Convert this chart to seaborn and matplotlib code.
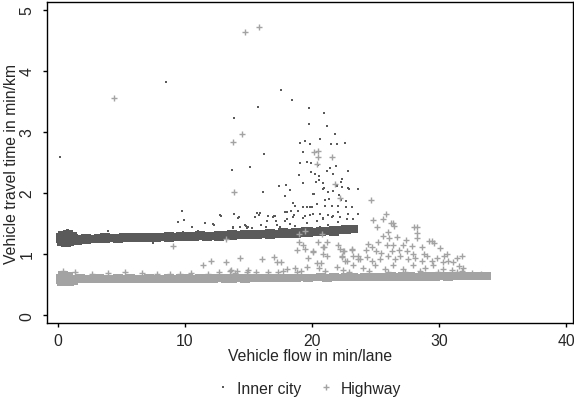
import matplotlib
matplotlib.use("Agg")
import matplotlib.pyplot as plt
from matplotlib.lines import Line2D
from matplotlib.path import Path
import seaborn as sns
import pandas as pd

# ---------------- data ----------------
series_names = ["Inner city", "Highway"]
x_ticks = [0, 10, 20, 30, 40]
y_ticks = [0, 1, 2, 3, 4, 5]

# dense core band, inner city: x positions with upper / lower edge values
city_band_x = [0.2, 0.7, 1.2, 1.7, 2.2, 2.7, 3.2, 3.7, 4.2, 4.7, 5.2, 5.7, 6.2, 6.7, 7.2, 7.7,
               8.2, 8.7, 9.2, 9.7, 10.2, 10.7, 11.2, 11.7, 12.2, 12.7, 13.2, 13.7, 14.2, 14.7,
               15.2, 15.7, 16.2, 16.7, 17.2, 17.7, 18.2, 18.7, 19.2, 19.7, 20.2, 20.7, 21.2,
               21.7, 22.2, 22.7, 23.2]
city_band_hi = [1.29, 1.27, 1.28, 1.27, 1.28, 1.27, 1.28, 1.29, 1.28, 1.28,
                1.29, 1.29, 1.30, 1.29, 1.29, 1.30, 1.30, 1.31, 1.30, 1.32,
                1.31, 1.31, 1.33, 1.32, 1.32, 1.33, 1.33, 1.34, 1.33, 1.35,
                1.34, 1.35, 1.35, 1.36, 1.35, 1.37, 1.36, 1.38, 1.37, 1.39,
                1.38, 1.40, 1.40, 1.41, 1.41, 1.43, 1.43]
city_band_lo = [1.23, 1.23, 1.22, 1.23, 1.22, 1.23, 1.23, 1.23, 1.24, 1.23,
                1.24, 1.24, 1.25, 1.24, 1.25, 1.24, 1.26, 1.25, 1.26, 1.26,
                1.27, 1.26, 1.28, 1.27, 1.28, 1.27, 1.29, 1.28, 1.29, 1.29,
                1.30, 1.29, 1.31, 1.30, 1.31, 1.31, 1.32, 1.32, 1.33, 1.33,
                1.34, 1.34, 1.36, 1.35, 1.37, 1.37, 1.39]
city_edge_x = [0.3, 0.6, 0.9, 1.2, 1.5, 0.4, 0.8, 1.1]
city_edge_y = [1.18, 1.17, 1.18, 1.19, 1.20, 1.33, 1.34, 1.32]

# dense core band, highway
hw_band_x = [0.2, 0.7, 1.2, 1.7, 2.2, 2.7, 3.2, 3.7, 4.2, 4.7, 5.2, 5.7, 6.2, 6.7, 7.2, 7.7,
             8.2, 8.7, 9.2, 9.7, 10.2, 10.7, 11.2, 11.7, 12.2, 12.7, 13.2, 13.7, 14.2, 14.7,
             15.2, 15.7, 16.2, 16.7, 17.2, 17.7, 18.2, 18.7, 19.2, 19.7, 20.2, 20.7, 21.2,
             21.7, 22.2, 22.7, 23.2, 23.7, 24.2, 24.7, 25.2, 25.7, 26.2, 26.7, 27.2, 27.7,
             28.2, 28.7, 29.2, 29.7, 30.2, 30.7, 31.2, 31.7, 32.2, 32.7, 33.2, 33.7]
hw_band_hi = [0.62, 0.62, 0.61, 0.62, 0.61, 0.61, 0.62, 0.61, 0.61, 0.62,
              0.61, 0.62, 0.61, 0.61, 0.62, 0.61, 0.61, 0.62, 0.61, 0.62,
              0.62, 0.61, 0.62, 0.62, 0.62, 0.62, 0.63, 0.62, 0.62, 0.63,
              0.62, 0.63, 0.62, 0.63, 0.63, 0.62, 0.63, 0.63, 0.63, 0.63,
              0.63, 0.64, 0.63, 0.64, 0.63, 0.64, 0.64, 0.63, 0.64, 0.64,
              0.64, 0.64, 0.65, 0.64, 0.65, 0.65, 0.64, 0.65, 0.65, 0.65,
              0.65, 0.66, 0.65, 0.66, 0.66, 0.65, 0.66, 0.66]
hw_band_lo = [0.56, 0.56, 0.57, 0.57, 0.57, 0.57, 0.57, 0.57, 0.58, 0.57,
              0.57, 0.57, 0.58, 0.57, 0.57, 0.58, 0.58, 0.57, 0.58, 0.58,
              0.58, 0.58, 0.58, 0.58, 0.58, 0.59, 0.58, 0.58, 0.59, 0.58,
              0.59, 0.59, 0.59, 0.59, 0.59, 0.59, 0.59, 0.59, 0.60, 0.59,
              0.60, 0.60, 0.59, 0.60, 0.60, 0.60, 0.60, 0.60, 0.60, 0.60,
              0.61, 0.60, 0.60, 0.61, 0.61, 0.61, 0.61, 0.61, 0.61, 0.61,
              0.62, 0.61, 0.62, 0.62, 0.62, 0.62, 0.62, 0.62]
hw_edge_x = [0.3, 0.6, 0.9, 1.2, 0.4, 0.8]
hw_edge_y = [0.52, 0.53, 0.53, 0.54, 0.67, 0.66]

# scattered inner-city observations
city_x = [0.16, 8.50, 17.56, 18.43, 15.75, 19.76, 20.94, 13.86, 19.76, 21.18, 21.81, 19.06,
          19.45, 19.84, 20.63, 21.50, 21.97, 22.60, 16.22, 19.29, 19.06, 19.61, 19.92, 20.47,
          21.42, 21.89, 13.70, 15.12, 18.98, 19.92, 20.24, 20.55, 21.18, 21.65, 22.36, 22.83,
          19.29, 20.55, 22.28, 16.14, 17.40, 17.95, 18.27, 20.94, 22.36, 22.91, 23.62,
          20.31, 20.87, 21.97, 22.83, 20.87, 21.26, 21.65, 22.13, 20.08, 20.16, 17.87, 22.28,
          21.02, 21.34, 22.68, 18.50, 18.66, 19.29, 19.61, 19.84, 20.00, 20.39, 21.02, 21.57,
          22.05, 22.68, 23.15, 18.35, 17.87, 15.67, 15.83, 15.51, 16.54, 16.93, 17.17, 18.03,
          18.58, 19.45, 19.84, 20.63, 20.87, 21.26, 21.57, 22.05, 22.20, 22.83, 23.23, 23.62,
          12.83, 11.57, 12.28, 13.86, 14.17, 16.46, 17.01, 15.98, 14.80, 14.33, 13.78,
          0.79, 3.94, 9.76, 9.45, 9.92, 10.55, 12.76, 9.84, 11.02, 13.78,
          12.20, 14.25, 14.72, 14.96, 15.91, 17.09, 17.24, 18.03, 17.87, 18.27, 18.50, 18.90,
          19.29, 19.61, 20.08, 20.39, 20.87, 21.26, 21.65, 22.05, 22.76, 14.88, 15.28, 16.38,
          17.48, 18.66, 19.21, 20.63, 21.57, 22.44, 0.71, 0.16, 0.02, 7.50]
city_y = [2.59, 3.82, 3.69, 3.52, 3.41, 3.39, 3.31, 3.23, 3.13, 3.10, 2.97, 2.82,
          2.85, 2.80, 2.89, 2.80, 2.80, 2.82, 2.64, 2.67, 2.49, 2.51, 2.49, 2.46,
          2.41, 2.44, 2.38, 2.43, 2.30, 2.34, 2.31, 2.28, 2.36, 2.31, 2.23, 2.36,
          2.16, 2.21, 2.18, 2.02, 2.11, 2.13, 2.05, 2.08, 2.10, 2.07, 2.07,
          2.18, 2.16, 2.11, 2.08, 2.07, 2.02, 2.03, 1.97, 1.98, 1.98, 1.95, 1.89,
          1.89, 1.90, 1.87, 1.84, 1.79, 1.77, 1.77, 1.77, 1.77, 1.82, 1.79, 1.79,
          1.79, 1.77, 1.77, 1.70, 1.69, 1.67, 1.64, 1.61, 1.62, 1.61, 1.54, 1.57,
          1.64, 1.62, 1.64, 1.66, 1.57, 1.64, 1.61, 1.69, 1.61, 1.66, 1.57, 1.66,
          1.62, 1.51, 1.48, 1.66, 1.59, 1.54, 1.62, 1.48, 1.46, 1.44, 1.44,
          1.39, 1.38, 1.70, 1.52, 1.56, 1.44, 1.64, 1.36, 1.38, 1.43,
          1.49, 1.61, 1.48, 1.44, 1.67, 1.62, 1.48, 1.69, 1.54, 1.49, 1.61, 1.70,
          1.59, 1.51, 1.66, 1.54, 1.59, 1.48, 1.62, 1.52, 1.57, 1.43, 1.43, 1.44,
          1.44, 1.46, 1.43, 1.44, 1.44, 1.46, 1.39, 1.36, 1.33, 1.18]

# scattered highway observations
hw_x = [4.41, 14.72, 15.83, 14.49, 13.78, 20.16, 20.47, 21.57, 20.47, 20.39, 21.81, 13.86,
        22.20, 13.23, 9.06,
        11.42, 12.05, 13.23, 14.33, 13.62, 14.09, 14.88, 16.06, 17.01, 17.24, 17.56, 18.98,
        18.82, 19.29, 18.98, 19.45, 20.79, 20.47, 21.18, 20.94, 20.08, 19.69, 20.39, 20.71,
        21.18, 19.61, 22.05, 22.44, 22.36, 22.76, 23.15, 23.23, 23.62, 13.54, 13.94, 14.96,
        17.72, 18.03, 18.66, 18.82,
        24.65, 25.83, 24.80, 25.59, 25.12, 26.38, 26.46, 28.27, 28.27, 25.98, 25.59, 26.06,
        26.69, 27.40, 28.27, 29.45, 29.60, 25.20, 24.41, 25.91, 26.38, 27.17, 27.87, 28.66,
        22.20, 22.52, 23.15, 24.25, 24.72, 25.04, 25.43, 26.30, 26.85, 27.48, 27.95, 28.82,
        29.06, 30.08, 30.63, 31.81, 31.42, 30.71, 19.45, 20.08, 20.87, 20.87, 22.36, 22.60,
        23.62, 23.78, 24.33, 24.72, 25.35, 25.98, 26.54, 26.93, 27.56, 28.11, 28.66, 29.45,
        29.84, 30.31, 31.10, 31.57, 31.89, 31.81, 20.55, 21.97, 22.44, 23.23, 24.02, 24.96,
        25.75, 26.38, 27.17, 27.95, 28.90, 29.53, 30.31, 31.02, 26.22, 28.04, 29.20, 30.40,
        0.39, 1.30, 2.70, 3.90, 5.30, 6.60, 7.80, 8.80, 9.60, 10.50, 11.80, 12.70, 15.60,
        16.50, 17.30, 19.10, 21.00, 22.90, 24.50, 26.00, 27.30, 28.50, 29.90, 31.40, 32.60,
        33.30]
hw_y = [3.56, 4.64, 4.72, 2.97, 2.84, 2.67, 2.69, 2.59, 2.59, 2.48, 2.15, 2.02,
        1.92, 1.24, 1.13,
        0.82, 0.89, 0.87, 0.93, 0.74, 0.72, 0.70, 0.92, 0.95, 0.87, 0.87, 1.20,
        1.07, 1.15, 1.33, 1.38, 1.33, 1.20, 1.20, 1.11, 1.03, 0.93, 0.85, 0.85,
        0.97, 0.79, 1.15, 1.05, 0.97, 0.89, 1.08, 0.97, 0.92, 0.72, 0.69, 0.74,
        0.72, 0.75, 0.77, 0.70,
        1.89, 1.66, 1.56, 1.57, 1.44, 1.51, 1.46, 1.44, 1.34, 1.36, 1.30, 1.26,
        1.28, 1.23, 1.26, 1.21, 1.18, 1.20, 1.16, 1.15, 1.15, 1.15, 1.13, 1.11,
        1.08, 1.05, 1.07, 1.07, 1.11, 1.05, 1.02, 1.05, 1.07, 1.05, 1.00, 1.00,
        0.97, 1.10, 1.00, 0.97, 0.93, 0.89, 1.08, 1.05, 1.11, 1.00, 0.95, 0.89,
        0.97, 0.92, 0.95, 0.89, 0.92, 0.97, 0.92, 0.97, 0.92, 0.93, 0.89, 0.89,
        0.93, 0.87, 0.87, 0.80, 0.77, 0.72, 0.77, 0.79, 0.74, 0.82, 0.77, 0.82,
        0.75, 0.82, 0.75, 0.82, 0.77, 0.82, 0.75, 0.74, 1.51, 1.44, 1.21, 0.97,
        0.72, 0.70, 0.68, 0.69, 0.70, 0.69, 0.68, 0.68, 0.67, 0.69, 0.68, 0.70, 0.70,
        0.71, 0.70, 0.72, 0.72, 0.70, 0.72, 0.71, 0.70, 0.72, 0.71, 0.70, 0.69,
        0.68]

# ---------------- tables ----------------
city_band = pd.DataFrame({
    "flow": city_band_x + city_band_x + city_edge_x,
    "time": city_band_hi + city_band_lo + city_edge_y,
})
hw_band = pd.DataFrame({
    "flow": hw_band_x + hw_band_x + hw_edge_x,
    "time": hw_band_hi + hw_band_lo + hw_edge_y,
})
city_pts = pd.DataFrame({"flow": city_x, "time": city_y})
hw_pts = pd.DataFrame({"flow": hw_x, "time": hw_y})

# ---------------- style ----------------
sns.set_style("white")
plt.rcParams["font.family"] = ["Liberation Sans", "DejaVu Sans"]
FS = 11.3
C_CITY = "#5a5a5a"
C_HW = "#a3a3a3"

# wide flat tile used for the overlapping dense core of each cloud
tile = Path([(-1.0, -0.6), (1.0, -0.6), (1.0, 0.6), (-1.0, 0.6), (-1.0, -0.6)],
            [Path.MOVETO, Path.LINETO, Path.LINETO, Path.LINETO, Path.CLOSEPOLY])

fig = plt.figure(figsize=(5.74, 4.02), dpi=100, facecolor="white")
ax = fig.add_axes([47 / 574, 78 / 402, 526 / 574, 321 / 402])

# inner city first, highway on top
sns.scatterplot(data=city_band, x="flow", y="time", ax=ax, color=C_CITY, marker=tile,
                s=42, linewidth=0, legend=False)
sns.scatterplot(data=city_pts, x="flow", y="time", ax=ax, color=C_CITY, marker="s",
                s=2.6, linewidth=0, legend=False)
sns.scatterplot(data=hw_band, x="flow", y="time", ax=ax, color=C_HW, marker=tile,
                s=42, linewidth=0, legend=False)
sns.scatterplot(data=hw_pts, x="flow", y="time", ax=ax, color=C_HW, marker="+",
                s=16, linewidth=1.0, legend=False)

ax.set_xlim(-0.87, 40.55)
ax.set_ylim(-0.13, 5.13)
ax.set_xticks(x_ticks)
ax.set_yticks(y_ticks)
ax.set_xticklabels([str(v) for v in x_ticks], fontsize=FS)
ax.set_yticklabels([str(v) for v in y_ticks], fontsize=FS, rotation=90, va="center")
ax.tick_params(axis="both", direction="out", length=3, width=1, color="black",
               bottom=True, left=True, top=False, right=False)
ax.tick_params(axis="x", pad=4)
ax.tick_params(axis="y", pad=6)

for sp in ax.spines.values():
    sp.set_visible(True)
    sp.set_color("black")
    sp.set_linewidth(1.0)

ax.set_xlabel("Vehicle flow in min/lane", fontsize=FS, va="center")
ax.xaxis.set_label_coords(0.5, -0.0997)
ax.set_ylabel("Vehicle travel time in min/km", fontsize=FS, va="center")
ax.yaxis.set_label_coords(-0.067, 0.5)

handles = [
    Line2D([], [], linestyle="none", marker="s", markersize=1.6, color=C_CITY,
           markeredgewidth=0),
    Line2D([], [], linestyle="none", marker="+", markersize=4.5, color=C_HW,
           markeredgewidth=1.0),
]
fig.legend(handles, series_names, loc="center", bbox_to_anchor=(0.5375, 0.032),
           ncol=2, frameon=False, fontsize=FS, handlelength=0.8, handletextpad=0.5,
           columnspacing=1.2)

fig.savefig("out.png", dpi=100, facecolor="white")
